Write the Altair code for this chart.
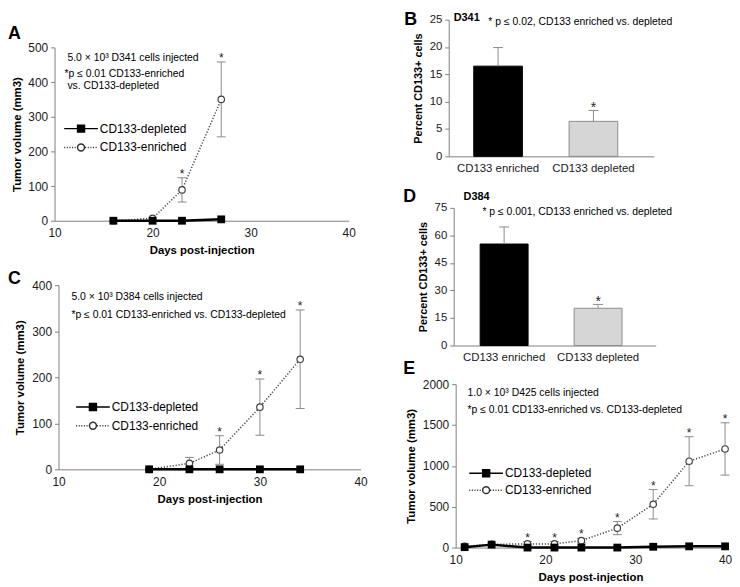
import altair as alt
import pandas as pd

FONT = "Liberation Sans"
W, H = 724, 571

# ---------------- data ----------------
SERIES = ["CD133-depleted", "CD133-enriched"]

a_days = [16, 20, 23, 27]
a_depleted = [0, 0, 0, 4]
a_enriched = [0, 7, 89, 350]
a_enriched_err = [0, 0, 35, 108]
a_star_days = [23, 27]

c_days = [19, 23, 26, 30, 34]
c_depleted = [0, 0, 0, 0, 0]
c_enriched = [0, 13, 42, 135, 239]
c_enriched_err = [0, 13, 31, 61, 107]
c_star_days = [26, 30, 34]

e_days = [11, 14, 18, 21, 24, 28, 32, 36, 40]
e_depleted = [5, 36, 0, 0, 0, 0, 10, 15, 15]
e_enriched = [15, 40, 45, 45, 85, 238, 530, 1057, 1207]
e_enriched_err = [0, 0, 28, 28, 27, 80, 180, 300, 320]
e_star_days = [18, 21, 24, 28, 32, 36, 40]

bar_categories = ["CD133 enriched", "CD133 depleted"]
b_values = [16.5, 6.4]
b_errors = [3.4, 2.0]
b_star = [False, True]
d_values = [55.3, 20.3]
d_errors = [9.3, 2.1]
d_star = [False, True]

x_ticks = [10, 20, 30, 40]
a_y_ticks = [0, 100, 200, 300, 400, 500]
c_y_ticks = [0, 100, 200, 300, 400]
e_y_ticks = [0, 500, 1000, 1500, 2000]
b_y_ticks = [0, 5, 10, 15, 20, 25]
d_y_ticks = [0, 15, 30, 45, 60, 75]

a_notes = ["5.0 × 10³ D341 cells injected", "*p ≤ 0.01 CD133-enriched", "vs. CD133-depleted"]
b_notes = ["D341", "* p ≤ 0.02, CD133 enriched vs. depleted"]
c_notes = ["5.0 × 10³ D384 cells injected", "*p ≤ 0.01 CD133-enriched vs. CD133-depleted"]
d_notes = ["D384", "* p ≤ 0.001, CD133 enriched vs. depleted"]
e_notes = ["1.0 × 10³ D425 cells injected", "*p ≤ 0.01 CD133-enriched vs. CD133-depleted"]
letters = ["A", "B", "C", "D", "E"]


# ---------------- legend symbols (line + marker) ----------------
def _dots(a, b, dot=0.3, gap=0.45):
    out, x = [], a
    while x + dot <= b + 1e-9:
        out.append(f"M{x:.2f},0H{x + dot:.2f}")
        x += dot + gap
    return "".join(out)


L = 4.86
DEP_PATH = f"M{-L},0H{L}M-1,-1H1V1H-1Z"
ENR_PATH = _dots(-L, -1.2) + _dots(1.2, L) + "M1,0A1,1,0,1,1,-1,0A1,1,0,1,1,1,0Z"
HALF = 17  # half length of the legend line in px


def long_df(days, dep, enr, err, stars):
    rows = []
    for d, v in zip(days, dep):
        rows.append(dict(day=d, value=v, series=SERIES[0], lo=v, hi=v, star=False))
    for d, v, s in zip(days, enr, err):
        rows.append(dict(day=d, value=v, series=SERIES[1], lo=max(v - s, 0), hi=v + s, star=d in stars))
    return pd.DataFrame(rows)


def line_panel(df, xr, yr, ymax, yticks, legend_xy, ytitle_pad, row_pad):
    xaxis = alt.Axis(orient="bottom", offset=yr[0] - H, values=x_ticks, title="Days post-injection",
                     ticks=False, tickSize=0, labelPadding=7, titlePadding=6, labelFlush=False,
                     labelFontSize=12, titleFontSize=11.5, format="d")
    yaxis = alt.Axis(orient="left", offset=-xr[0], values=yticks, title="Tumor volume (mm3)",
                     tickSize=4, labelPadding=3, titlePadding=ytitle_pad, labelFlush=False,
                     labelFontSize=12, titleFontSize=11.5, format="d")
    xs = alt.Scale(domain=[10, 40], range=xr, nice=False, zero=False)
    ys = alt.Scale(domain=[0, ymax], range=yr, nice=False)

    def X():
        return alt.X("day:Q", scale=xs, axis=xaxis)

    def Y(f):
        return alt.Y(f"{f}:Q", scale=ys, axis=yaxis)

    base = alt.Chart(df)
    enr = base.transform_filter(alt.datum.series == SERIES[1])
    dep = base.transform_filter(alt.datum.series == SERIES[0])
    err = enr.transform_filter("datum.hi > datum.value")

    enr_line = enr.mark_line(color="#404040", strokeWidth=1.5, strokeDash=[1.2, 1.8]).encode(x=X(), y=Y("value"))
    err_rule = err.mark_rule(color="#8a8a8a", strokeWidth=1).encode(x=X(), y=Y("lo"), y2="hi:Q")
    err_hi = err.mark_tick(color="#8a8a8a", orient="horizontal", size=9, thickness=1, opacity=1).encode(x=X(), y=Y("hi"))
    err_lo = err.transform_filter("datum.lo > 0").mark_tick(color="#8a8a8a", orient="horizontal", size=9,
                                                              thickness=1, opacity=1).encode(x=X(), y=Y("lo"))
    enr_pts = enr.mark_point(shape="circle", size=42, filled=True, fill="white", stroke="#404040",
                             strokeWidth=1.2, opacity=1).encode(x=X(), y=Y("value"))
    dep_line = dep.mark_line(color="black", strokeWidth=2.5).encode(x=X(), y=Y("value"))
    dep_pts = dep.mark_point(shape="square", size=62, filled=True, color="black", opacity=1).encode(x=X(), y=Y("value"))
    stars = enr.transform_filter("datum.star").mark_text(text="*", font=FONT, fontSize=12, baseline="alphabetic",
                                                          color="#222").encode(x=X(), y=Y("hi"))

    # legend_xy = left end of the legend line, top of the legend block
    leg = alt.Legend(title=None, orient="none", legendX=legend_xy[0] + HALF - 4.25, legendY=legend_xy[1],
                     symbolSize=49, symbolStrokeWidth=1.5, symbolOffset=0, labelOffset=HALF - 4,
                     labelFont=FONT, labelFontSize=12, labelColor="black", rowPadding=row_pad, padding=0,
                     labelBaseline="middle")
    legend_layer = base.transform_filter("false").mark_point(filled=True, opacity=1, strokeWidth=1.5).encode(
        shape=alt.Shape("series:N", scale=alt.Scale(domain=SERIES, range=[DEP_PATH, ENR_PATH]), legend=leg),
        fill=alt.Fill("series:N", scale=alt.Scale(domain=SERIES, range=["black", "white"]), legend=leg),
        stroke=alt.Stroke("series:N", scale=alt.Scale(domain=SERIES, range=["black", "#303030"]), legend=leg),
    )
    return alt.layer(enr_line, err_rule, err_hi, err_lo, enr_pts, dep_line, dep_pts, stars, legend_layer)


def bar_panel(values, errors, starflags, xr, yr, ymax, yticks, align):
    df = pd.DataFrame({"cat": bar_categories, "val": values,
                       "hi": [v + e for v, e in zip(values, errors)], "star": starflags})
    xaxis = alt.Axis(orient="bottom", offset=yr[0] - H, title=None, ticks=False, tickSize=0, labelAngle=0,
                     labelPadding=6, labelFontSize=11.5, labelFlush=False)
    yaxis = alt.Axis(orient="left", offset=-xr[0], values=yticks, title="Percent CD133+ cells",
                     tickSize=4, labelPadding=3, titlePadding=6, labelFontSize=11.5, titleFontSize=11,
                     labelFlush=False)
    xs = alt.Scale(domain=bar_categories, range=xr, paddingInner=0.49, paddingOuter=0.32, align=align)
    ys = alt.Scale(domain=[0, ymax], range=yr, nice=False)

    def X():
        return alt.X("cat:N", scale=xs, axis=xaxis, sort=bar_categories)

    def Y(f):
        return alt.Y(f"{f}:Q", scale=ys, axis=yaxis)

    base = alt.Chart(df)
    bars = base.mark_bar(strokeWidth=1).encode(
        x=X(), y=Y("val"),
        fill=alt.condition(alt.datum.cat == bar_categories[0], alt.value("black"), alt.value("#d6d6d6")),
        stroke=alt.condition(alt.datum.cat == bar_categories[0], alt.value("black"), alt.value("#8c8c8c")),
    )
    rule = base.mark_rule(color="#8a8a8a", strokeWidth=1).encode(x=X(), y=Y("val"), y2="hi:Q")
    cap = base.mark_tick(color="#8a8a8a", orient="horizontal", size=10, thickness=1, opacity=1).encode(x=X(), y=Y("hi"))
    stars = base.transform_filter("datum.star").mark_text(text="*", font=FONT, fontSize=14, baseline="alphabetic",
                                                           dy=2, color="#222").encode(x=X(), y=Y("hi"))
    return alt.layer(bars, rule, cap, stars)


def note(text, x, y, size=10.5, weight="normal"):
    return alt.Chart(pd.DataFrame({"t": [text]})).mark_text(
        font=FONT, fontSize=size, fontWeight=weight, align="left", baseline="middle", color="black"
    ).encode(text="t:N", x=alt.value(x), y=alt.value(y))


panel_a = line_panel(long_df(a_days, a_depleted, a_enriched, a_enriched_err, a_star_days),
                     [47, 344], [210, 35], 500, a_y_ticks, (55, 111), 5, 5)
panel_c = line_panel(long_df(c_days, c_depleted, c_enriched, c_enriched_err, c_star_days),
                     [51, 356], [461, 275], 400, c_y_ticks, (67, 392), 6, 5)
panel_e = line_panel(long_df(e_days, e_depleted, e_enriched, e_enriched_err, e_star_days),
                     [452, 724], [540, 375], 2000, e_y_ticks, (464, 459), 6, 3)
panel_b = bar_panel(b_values, b_errors, b_star, [445, 652], [145, 7], 25, b_y_ticks, 0.41)
panel_d = bar_panel(d_values, d_errors, d_star, [450, 654], [336, 197], 75, d_y_ticks, 0.44)

notes = [
    note(a_notes[0], 60, 46), note(a_notes[1], 57, 62), note(a_notes[2], 60, 74),
    note(b_notes[0], 450, 5, 11, "bold"), note(b_notes[1], 485, 9),
    note(c_notes[0], 64, 287), note(c_notes[1], 64, 305),
    note(d_notes[0], 460, 186, 11, "bold"), note(d_notes[1], 479, 201),
    note(e_notes[0], 464, 384), note(e_notes[1], 464, 401),
    note(letters[0], 0, 22, 18, "bold"), note(letters[1], 400, 7, 18, "bold"),
    note(letters[2], 0, 269, 18, "bold"), note(letters[3], 399, 186, 18, "bold"),
    note(letters[4], 399, 360, 18, "bold"),
]

chart = alt.layer(panel_a, panel_b, panel_c, panel_d, panel_e, *notes).resolve_scale(
    x="independent", y="independent", shape="independent", fill="independent", stroke="independent"
).properties(width=W, height=H, padding=0).configure_view(stroke=None).configure_axis(
    grid=False, domainColor="#808080", tickColor="#808080", labelColor="#1a1a1a", labelFont=FONT,
    titleFont=FONT, titleFontWeight="bold", titleColor="black", labelOverlap=False
)

chart.save("out.html", embed_options={"renderer": "svg", "actions": False})
